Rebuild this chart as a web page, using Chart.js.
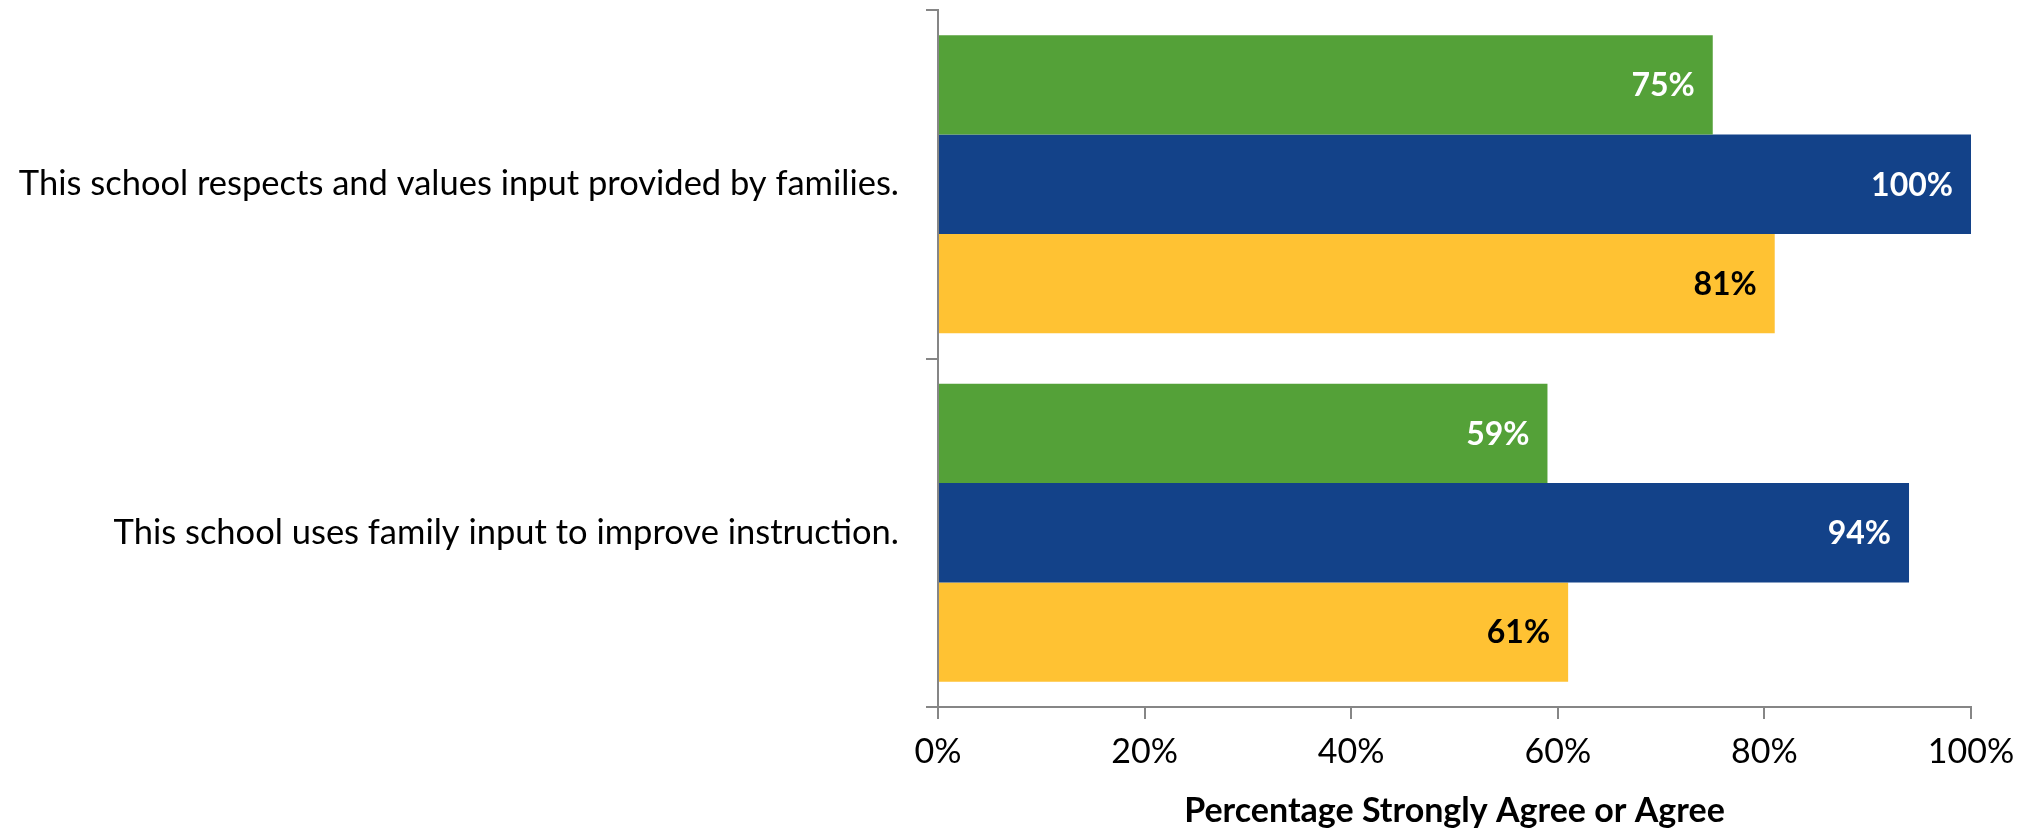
<!DOCTYPE html>
<html>
<head>
<meta charset="utf-8">
<script src="https://cdn.jsdelivr.net/npm/chart.js@4"></script>
<style>
  html, body { margin: 0; padding: 0; background: #fff; }
  #wrap { width: 2030px; height: 828px; }
</style>
</head>
<body>
<div id="wrap"><canvas id="chart" width="2030" height="828"></canvas></div>
<script>
const categories = [
  'This school respects and values input provided by families.',
  'This school uses family input to improve instruction.'
];
const greenValues = [75, 59];
const blueValues = [100, 94];
const yellowValues = [81, 61];
const xTicks = [0, 20, 40, 60, 80, 100];

const FONT = 'Lato, "Open Sans", sans-serif';
const AXIS_GRAY = '#868686';

// labels inside the bar end, like the original
const barLabels = {
  id: 'barLabels',
  afterDatasetsDraw(chart) {
    const ctx = chart.ctx;
    ctx.save();
    ctx.font = 'bold 32px ' + FONT;
    ctx.textAlign = 'right';
    ctx.textBaseline = 'middle';
    chart.data.datasets.forEach((ds, i) => {
      chart.getDatasetMeta(i).data.forEach((bar, j) => {
        ctx.fillStyle = ds.labelColor;
        ctx.fillText(ds.data[j] + '%', bar.x - 18, bar.y + 1);
      });
    });
    ctx.restore();
  }
};

new Chart(document.getElementById('chart'), {
  type: 'bar',
  data: {
    labels: categories,
    datasets: [
      { data: greenValues, backgroundColor: '#54A138', labelColor: '#ffffff' },
      { data: blueValues, backgroundColor: '#134289', labelColor: '#ffffff' },
      { data: yellowValues, backgroundColor: '#FFC233', labelColor: '#000000' }
    ]
  },
  options: {
    indexAxis: 'y',
    responsive: false,
    animation: false,
    barPercentage: 1,
    categoryPercentage: 0.855,
    layout: { padding: { top: 10, right: 59, bottom: 0, left: 0 } },
    plugins: {
      legend: { display: false },
      tooltip: { enabled: false }
    },
    scales: {
      x: {
        min: 0,
        max: 100,
        afterBuildTicks: (scale) => { scale.ticks = xTicks.map(v => ({ value: v })); },
        afterFit: (scale) => { scale.height = 121; },
        grid: { drawOnChartArea: false, tickLength: 12, color: AXIS_GRAY, lineWidth: 2 },
        border: { color: AXIS_GRAY, width: 2 },
        ticks: {
          padding: 13,
          color: '#000',
          font: { family: FONT, size: 34 },
          callback: (v) => v + '%'
        },
        title: {
          display: true,
          text: 'Percentage Strongly Agree or Agree',
          color: '#000',
          font: { family: FONT, size: 34, weight: 'bold', lineHeight: 1 },
          padding: { top: 0, bottom: 0 }
        }
      },
      y: {
        afterFit: (scale) => {
          scale.width = 938;
          scale.paddingTop = 0;
          scale.paddingBottom = 0;
        },
        grid: { drawOnChartArea: false, offset: true, tickLength: 12, color: AXIS_GRAY, lineWidth: 2 },
        border: { color: AXIS_GRAY, width: 2 },
        ticks: {
          padding: 27,
          color: '#000',
          font: { family: FONT, size: 34.5 }
        }
      }
    }
  },
  plugins: [barLabels]
});
</script>
</body>
</html>
